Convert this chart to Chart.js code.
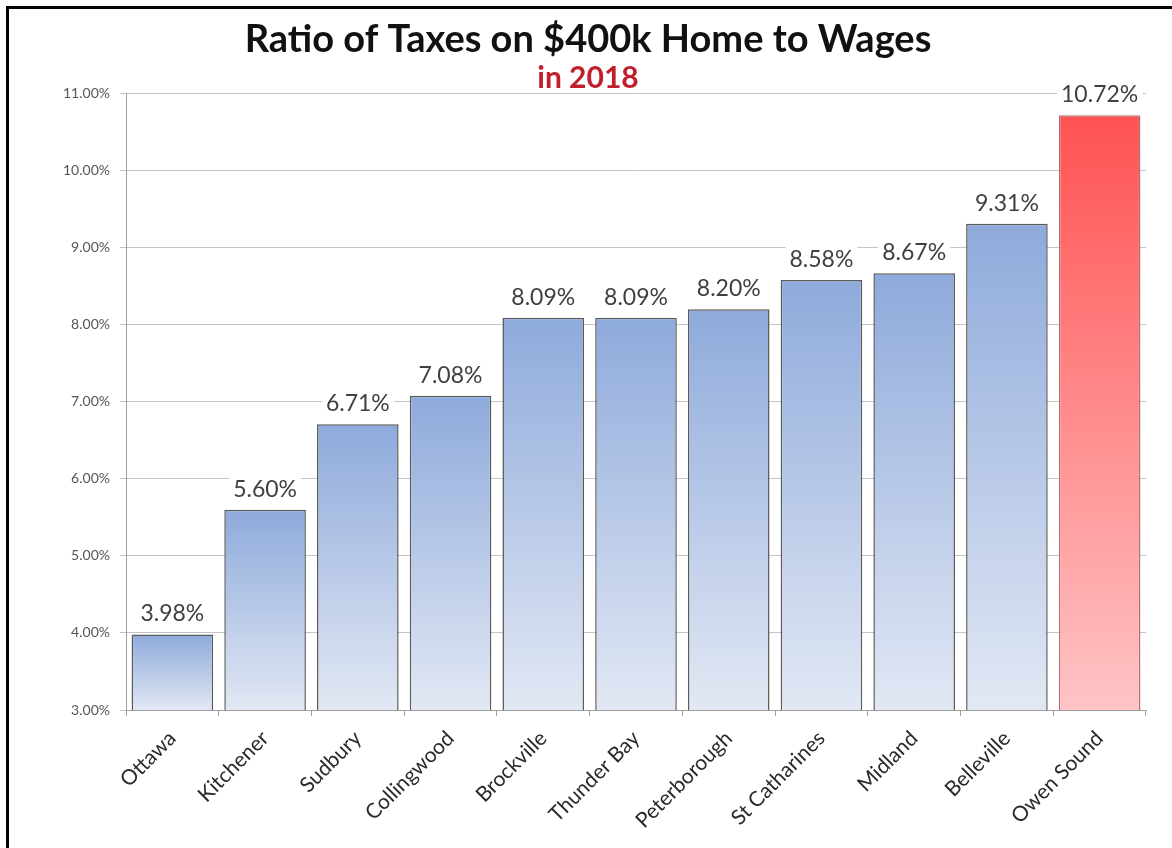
<!DOCTYPE html>
<html>
<head>
<meta charset="utf-8">
<title>Ratio of Taxes on $400k Home to Wages</title>
<script src="https://cdn.jsdelivr.net/npm/chart.js@4.4.0/dist/chart.umd.min.js"></script>
<style>
  html, body { margin: 0; padding: 0; background: #fff; }
  #frame {
    position: absolute; left: 6px; top: 6px; width: 1166px; height: 842px;
    border-top: 3px solid #000; border-left: 3px solid #000;
  }
  #wrap { position: absolute; left: 0; top: 0; width: 1172px; height: 848px; }
</style>
</head>
<body>
<div id="wrap"><canvas id="chart" width="1172" height="848"></canvas></div>
<div id="frame"></div>
<script>
  // ---- data ----
  const cities = ['Ottawa', 'Kitchener', 'Sudbury', 'Collingwood', 'Brockville', 'Thunder Bay',
                  'Peterborough', 'St Catharines', 'Midland', 'Belleville', 'Owen Sound'];
  const ratios = [3.98, 5.60, 6.71, 7.08, 8.09, 8.09, 8.20, 8.58, 8.67, 9.31, 10.72];
  const highlightCity = 'Owen Sound';
  const yMin = 3, yMax = 11, yStep = 1;

  const FONT = 'Lato, "Open Sans", sans-serif';

  // vertical gradient per bar, from its top down to the axis
  function barFill(ctx) {
    const chart = ctx.chart;
    if (!chart.chartArea || ctx.dataIndex === undefined) return '#9db4de';
    const y = chart.scales.y;
    const top = y.getPixelForValue(ratios[ctx.dataIndex]);
    const bottom = y.getPixelForValue(yMin);
    const g = chart.ctx.createLinearGradient(0, top, 0, bottom);
    if (cities[ctx.dataIndex] === highlightCity) {
      g.addColorStop(0, '#ff5252');
      g.addColorStop(1, '#ffc4c6');
    } else {
      g.addColorStop(0, '#8eaadb');
      g.addColorStop(1, '#e2e8f4');
    }
    return g;
  }

  // value labels above the bars
  const valueLabels = {
    id: 'valueLabels',
    afterDatasetsDraw(chart) {
      const c = chart.ctx;
      const meta = chart.getDatasetMeta(0);
      c.save();
      c.font = '23px ' + FONT;
      c.textAlign = 'center';
      c.textBaseline = 'bottom';
      meta.data.forEach((bar, i) => {
        const txt = ratios[i].toFixed(2) + '%';
        const w = c.measureText(txt).width;
        const yb = bar.y - 9;
        c.fillStyle = '#fff';
        c.fillRect(bar.x - w / 2 - 4, yb - 25, w + 8, 26);
        c.fillStyle = '#404040';
        c.fillText(txt, bar.x, yb);
      });
      c.restore();
    }
  };

  new Chart(document.getElementById('chart'), {
    type: 'bar',
    data: {
      labels: cities,
      datasets: [{
        data: ratios,
        backgroundColor: barFill,
        borderColor: (ctx) => cities[ctx.dataIndex] === highlightCity ? '#b07070' : '#5a5a5a',
        borderWidth: 1.5,
        borderSkipped: 'bottom',
        barPercentage: 0.88,
        categoryPercentage: 1.0
      }]
    },
    options: {
      responsive: false,
      animation: false,
      layout: { padding: { left: 30, right: 26, top: 12, bottom: 0 } },
      plugins: {
        legend: { display: false },
        tooltip: { enabled: false },
        title: {
          display: true,
          text: 'Ratio of Taxes on $400k Home to Wages',
          color: '#111',
          font: { family: FONT, size: 38, weight: 'bold' },
          padding: { top: 5, bottom: -2 }
        },
        subtitle: {
          display: true,
          text: 'in 2018',
          color: '#c0202c',
          font: { family: FONT, size: 30, weight: 'bold' },
          padding: { top: 0, bottom: -3 }
        }
      },
      scales: {
        x: {
          afterFit(scale) { scale.height = 138; },
          grid: { display: true, drawOnChartArea: false, color: '#a0a0a0', tickLength: 6 },
          border: { color: '#a0a0a0' },
          ticks: {
            color: '#2a2a2a',
            font: { family: FONT, size: 21 },
            minRotation: 45,
            maxRotation: 45,
            padding: 10
          }
        },
        y: {
          min: yMin,
          max: yMax,
          afterFit(scale) { scale.width = 96; },
          ticks: {
            stepSize: yStep,
            color: '#555',
            font: { family: FONT, size: 14 },
            padding: 10,
            callback: (v) => v.toFixed(2) + '%'
          },
          grid: { color: '#c4c4c4', tickLength: 6 },
          border: { color: '#a0a0a0' }
        }
      }
    },
    plugins: [valueLabels]
  });
</script>
</body>
</html>
